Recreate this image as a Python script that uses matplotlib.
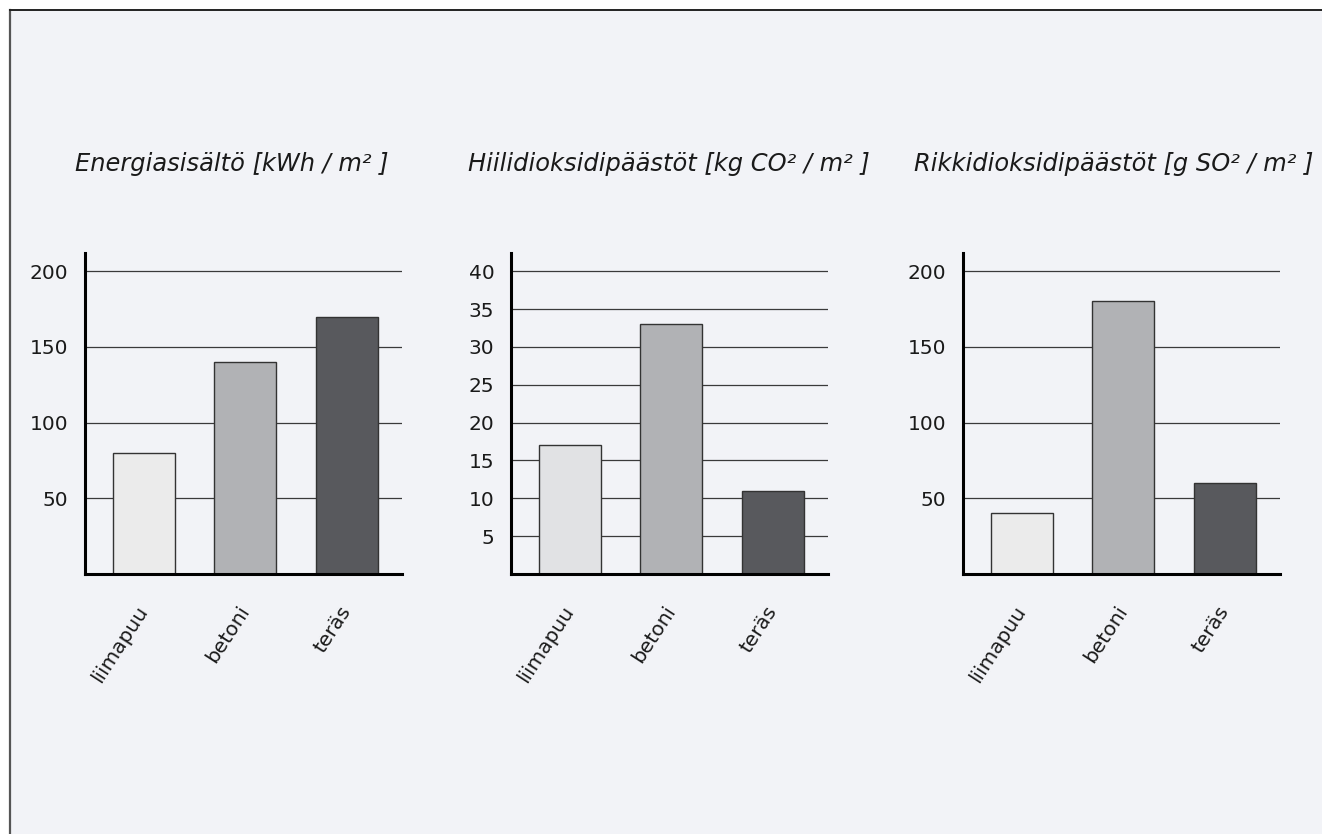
import matplotlib.pyplot as plt
from matplotlib.patches import Rectangle
from matplotlib.lines import Line2D

CATEGORIES = ["liimapuu", "betoni", "teräs"]

ENERGY = [80, 140, 170]
CO2 = [17, 33, 11]
SO2 = [40, 180, 60]

TITLES = [
    "Energiasisältö [kWh / m² ]",
    "Hiilidioksidipäästöt [kg CO² / m² ]",
    "Rikkidioksidipäästöt [g SO² / m² ]",
]
YTICKS = [
    [50, 100, 150, 200],
    [5, 10, 15, 20, 25, 30, 35, 40],
    [50, 100, 150, 200],
]
YMAX = [212, 42.4, 212]

COLORS = [
    ["#ebebeb", "#b1b2b5", "#58595d"],
    ["#e1e2e4", "#b1b2b5", "#58595d"],
    ["#ebebeb", "#b1b2b5", "#58595d"],
]

W, H = 1322, 834
BG = "#f2f3f7"
TXT = "#1a1a1a"

fig = plt.figure(figsize=(W / 100, H / 100), dpi=100)
fig.patch.set_facecolor("white")

# panel background with a dark top/left border
fig.patches.append(Rectangle((10 / W, 0), 1 - 10 / W, 1 - 10 / H, transform=fig.transFigure,
                             facecolor=BG, edgecolor="none", zorder=-10))
fig.lines.append(Line2D([10 / W, 10 / W], [0, 1 - 10 / H], transform=fig.transFigure,
                        color="#555555", lw=1.6, zorder=-5))
fig.lines.append(Line2D([10 / W, 1], [1 - 10 / H, 1 - 10 / H], transform=fig.transFigure,
                        color="#222222", lw=1.4, zorder=-5))

lefts = [85, 511, 963]
title_x = [232, 669, 1114]
bottom, top = 574, 253

for i, values in enumerate([ENERGY, CO2, SO2]):
    ax = fig.add_axes([lefts[i] / W, (H - bottom) / H, 317 / W, (bottom - top) / H])
    ax.set_facecolor("none")
    x = range(len(CATEGORIES))
    ax.bar(x, values, width=0.61, color=COLORS[i], edgecolor="#333333", linewidth=1.0, zorder=3)
    ax.set_xlim(-0.577, 2.54)
    ax.set_ylim(0, YMAX[i])
    ax.set_yticks(YTICKS[i])
    ax.set_yticklabels([str(v) for v in YTICKS[i]], fontsize=14.5, color=TXT)
    ax.set_xticks(list(x))
    ax.set_xticklabels(CATEGORIES, fontsize=14.5, color=TXT, rotation=57,
                       ha="right", va="center", rotation_mode="anchor")
    ax.tick_params(axis="both", length=0)
    ax.tick_params(axis="y", pad=12)
    ax.tick_params(axis="x", pad=24)
    ax.grid(axis="y", color="#3a3a3a", linewidth=0.9, zorder=1)
    ax.set_axisbelow(True)
    for side in ["top", "right"]:
        ax.spines[side].set_visible(False)
    ax.spines["left"].set_linewidth(2.2)
    ax.spines["bottom"].set_linewidth(2.2)
    ax.spines["left"].set_color("black")
    ax.spines["bottom"].set_color("black")
    ax.spines["left"].set_zorder(5)
    ax.spines["bottom"].set_zorder(5)

    fig.text(title_x[i] / W, 1 - 164 / H, TITLES[i], fontsize=17.4, style="italic",
             color=TXT, ha="center", va="center")

fig.savefig("out.png", dpi=100)
